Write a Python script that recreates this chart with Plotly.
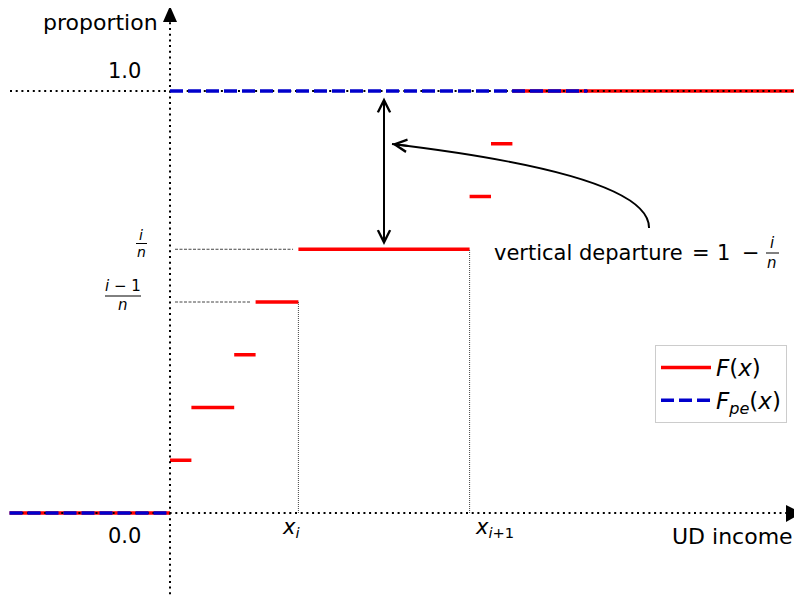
import plotly.graph_objects as go

# ---- data ----
F_breaks = [-7.5, 0, 1, 3, 4, 6, 14, 15, 16, 29.5]
F_values = [0.0, 0.125, 0.25, 0.375, 0.5, 0.625, 0.75, 0.875, 1.0]
Fpe_breaks = [-7.5, 0, 19.5]
Fpe_values = [0.0, 1.0]
i_idx = 5  # index of the step starting at x_i

FONT = "DejaVu Sans"
PX_PER_X = 21.4
PX_PER_Y = 422.0
X0_PX = 170.0
Y0_PX = 513.0
W, H = 802, 595
OFF = 8  # page body margin


def steps(breaks, vals):
    xs, ys = [], []
    for k, v in enumerate(vals):
        xs += [breaks[k], breaks[k + 1], None]
        ys += [v, v, None]
    return xs, ys


def dx(px):
    return (px - X0_PX) / PX_PER_X


def dy(py):
    return (Y0_PX - py) / PX_PER_Y


fig = go.Figure()

# F(x) red steps
fx, fy = steps(F_breaks, F_values)
fig.add_trace(go.Scatter(x=fx, y=fy, mode="lines", name="<i>F</i>(<i>x</i>)",
                         line=dict(color="red", width=3.5)))

# black dotted reference lines (axes)
dot = dict(color="black", width=2, dash="2px,3.7px")
fig.add_trace(go.Scatter(x=[dx(10), dx(788)], y=[0, 0], mode="lines", line=dot,
                         showlegend=False, hoverinfo="skip"))
fig.add_trace(go.Scatter(x=[dx(10), dx(805)], y=[1, 1], mode="lines", line=dot,
                         showlegend=False, hoverinfo="skip"))
fig.add_trace(go.Scatter(x=[0, 0], y=[dy(600), dy(22)], mode="lines", line=dot,
                         showlegend=False, hoverinfo="skip"))

# guide lines
xi = F_breaks[i_idx]
xi1 = F_breaks[i_idx + 1]
yi = F_values[i_idx]
yim1 = F_values[i_idx - 1]
gdash = dict(color="#444444", width=1, dash="3px,1.5px")
fig.add_trace(go.Scatter(x=[dx(175), xi - 0.25], y=[yi, yi], mode="lines", line=gdash,
                         showlegend=False, hoverinfo="skip"))
fig.add_trace(go.Scatter(x=[dx(175), F_breaks[i_idx - 1] - 0.2], y=[yim1, yim1], mode="lines",
                         line=gdash, showlegend=False, hoverinfo="skip"))
vdot = dict(color="#444444", width=1, dash="1px,1px")
fig.add_trace(go.Scatter(x=[xi, xi], y=[0, yim1], mode="lines", line=vdot,
                         showlegend=False, hoverinfo="skip"))
fig.add_trace(go.Scatter(x=[xi1, xi1], y=[0, yi], mode="lines", line=vdot,
                         showlegend=False, hoverinfo="skip"))

# F_pe(x) blue dashed
px_, py_ = steps(Fpe_breaks, Fpe_values)
fig.add_trace(go.Scatter(x=px_, y=py_, mode="lines", name="<i>F</i><sub><i>pe</i></sub>(<i>x</i>)",
                         line=dict(color="#0000cc", width=3.5, dash="13px,5px")))

shapes = []
# axis arrowheads (filled triangles)
shapes.append(dict(type="path", xref="x", yref="y", fillcolor="black", line=dict(width=0),
                   path=f"M {dx(163)},{dy(22)} L {dx(177)},{dy(22)} L 0,{dy(6)} Z"))
shapes.append(dict(type="path", xref="x", yref="y", fillcolor="black", line=dict(width=0),
                   path=f"M {dx(786)},{dy(505)} L {dx(786)},{dy(522)} L {dx(802)},0 Z"))
# curved arrow
shapes.append(dict(type="path", xref="x", yref="y", line=dict(color="black", width=2),
                   path=f"M {dx(649)},{dy(228)} Q {dx(650)},{dy(175)} {dx(392)},{dy(144)}"))


def bar(x1, x2, py):
    return dict(type="line", xref="x", yref="y", x0=dx(x1), x1=dx(x2), y0=dy(py), y1=dy(py),
                line=dict(color="black", width=1))


shapes.append(bar(136, 147, 243.5))
shapes.append(bar(105, 141, 296))
shapes.append(bar(766, 779, 253))

ann = []


def txt(s, px, py, size=21, xanchor="center"):
    ann.append(dict(text=s, x=dx(px), y=dy(py), xref="x", yref="y", showarrow=False,
                    xanchor=xanchor, yanchor="middle",
                    font=dict(family=FONT, size=size, color="black")))


txt("proportion", 160, 22, size=22, xanchor="right")
txt("1.0", 124, 71)
txt("0.0", 124, 536)
txt("UD income", 670, 536, size=22, xanchor="left")
txt("<i>x</i><sub><i>i</i></sub>", 291, 528)
txt("<i>x</i><sub><i>i</i>+1</sub>", 494, 528)
txt("vertical departure", 492, 253, size=21, xanchor="left")
txt("=", 701, 253, size=21)
txt("1", 723, 253, size=21)
txt("−", 751, 253, size=21)
# fractions
txt("<i>i</i>", 141, 235, size=14)
txt("<i>n</i>", 141, 252, size=14)
txt("<i>i</i> − 1", 123, 286, size=15)
txt("<i>n</i>", 123, 305, size=15)
txt("<i>i</i>", 772, 243, size=15)
txt("<i>n</i>", 772, 263, size=15)

# double-headed vertical arrow
ann.append(dict(x=dx(384), y=dy(245), ax=dx(384), ay=dy(96), xref="x", yref="y",
                axref="x", ayref="y", text="", showarrow=True, arrowhead=5, startarrowhead=5,
                arrowside="end+start", arrowwidth=2, arrowsize=1.2, startarrowsize=1.2,
                arrowcolor="black", standoff=0, startstandoff=0))
# head for curved arrow
ann.append(dict(x=dx(392), y=dy(144), ax=dx(410), ay=dy(146.2), xref="x", yref="y",
                axref="x", ayref="y", text="", showarrow=True, arrowhead=5,
                arrowwidth=2, arrowsize=1.2, arrowcolor="black", standoff=0))

fig.update_layout(
    width=W, height=H, margin=dict(l=0, r=0, t=0, b=0),
    plot_bgcolor="white", paper_bgcolor="white",
    xaxis=dict(range=[dx(OFF), dx(W + OFF)], visible=False, fixedrange=True),
    yaxis=dict(range=[dy(H + OFF), dy(OFF)], visible=False, fixedrange=True),
    shapes=shapes, annotations=ann,
    legend=dict(x=(787 - OFF) / W, y=1 - (345 - OFF) / H, xanchor="right", yanchor="top",
                bgcolor="white", bordercolor="#cccccc", borderwidth=1,
                font=dict(family=FONT, size=23, color="black"), itemwidth=50),
    font=dict(family=FONT),
)

fig.write_html("out.html")
